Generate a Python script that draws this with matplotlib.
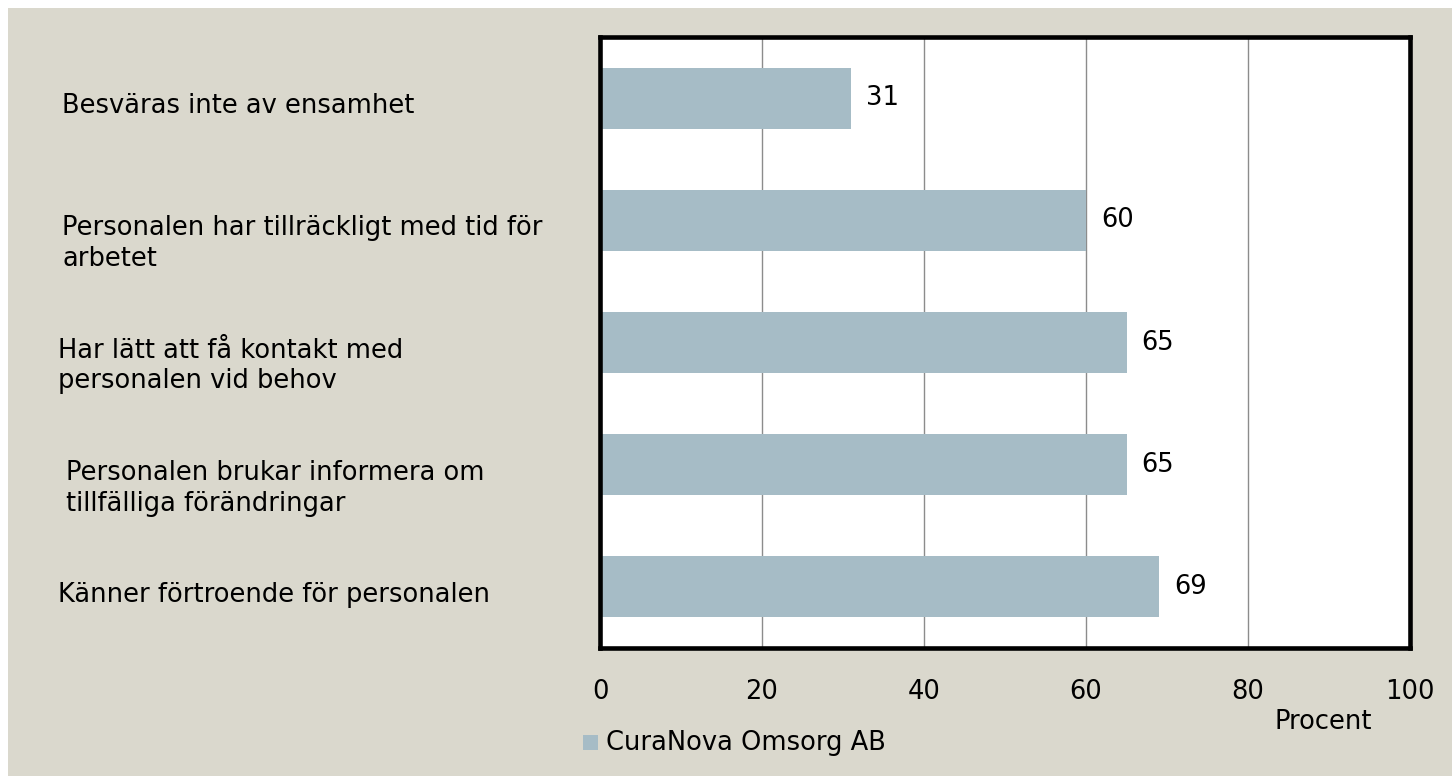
import matplotlib.pyplot as plt
from matplotlib.patches import Rectangle

# data
categories = [
    "Besväras inte av ensamhet",
    "Personalen har tillräckligt med tid för\narbetet",
    "Har lätt att få kontakt med\npersonalen vid behov",
    "Personalen brukar informera om\ntillfälliga förändringar",
    "Känner förtroende för personalen",
]
values = [31, 60, 65, 65, 69]
series_name = "CuraNova Omsorg AB"
x_ticks = [0, 20, 40, 60, 80, 100]
x_label = "Procent"

# layout: left edge of each category label (figure pixels)
label_px = [62, 62, 58, 66, 58]

W, H = 1452, 776
bg = "#DAD8CD"
bar_color = "#A6BCC6"

plt.rcParams["font.family"] = ["DejaVu Sans"]
fs = 18.5

fig = plt.figure(figsize=(W / 100, H / 100), dpi=100)
fig.patch.set_facecolor("white")
fig.patches.append(Rectangle((8 / W, 0), 1, 1 - 8 / H, transform=fig.transFigure,
                             facecolor=bg, edgecolor="none", zorder=-10))

ax = fig.add_axes([600 / W, 1 - 648 / H, 810 / W, 611 / H])
ax.set_facecolor("white")

y = list(range(len(categories)))
ax.barh(y, values, height=0.5, color=bar_color, zorder=2)
ax.set_xlim(0, 100)
ax.set_ylim(len(categories) - 0.5, -0.5)
ax.set_xticks(x_ticks)
ax.set_xticklabels([str(t) for t in x_ticks], fontsize=fs)
ax.tick_params(axis="x", length=0, pad=22)
ax.set_yticks([])
ax.grid(axis="x", color="#8C8C8C", linewidth=1.0, zorder=1)
for s in ax.spines.values():
    s.set_linewidth(3.3)
    s.set_color("black")

for yi, v in zip(y, values):
    ax.annotate(str(v), xy=(v, yi), xytext=(15, 0), textcoords="offset pixels",
                va="center", ha="left", fontsize=fs)

for yi, cat, lx in zip(y, categories, label_px):
    ax.annotate(cat, xy=(lx / W, yi), xycoords=("figure fraction", "data"),
                xytext=(0, 5), textcoords="offset pixels", va="top", ha="left",
                fontsize=fs, linespacing=1.25, annotation_clip=False)

fig.text(1372 / W, 1 - 722 / H, x_label, ha="right", va="center", fontsize=fs)

fig.patches.append(Rectangle((583 / W, 1 - 750 / H), 15 / W, 15 / H, transform=fig.transFigure,
                             facecolor=bar_color, edgecolor="none"))
fig.text(606 / W, 1 - 743 / H, series_name, ha="left", va="center", fontsize=fs)

fig.savefig("out.png", dpi=100, facecolor=fig.get_facecolor())
